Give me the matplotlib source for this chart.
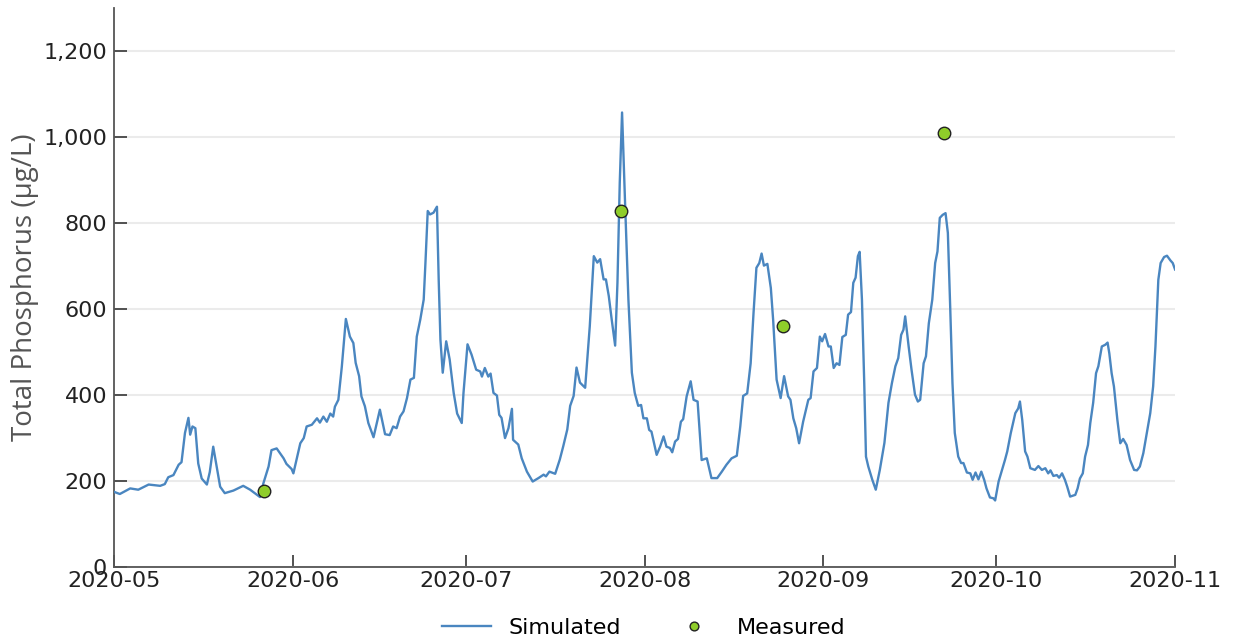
import matplotlib
matplotlib.use("Agg")
import matplotlib.pyplot as plt
import matplotlib.dates as mdates
from matplotlib.ticker import FuncFormatter
import pandas as pd

START = pd.Timestamp("2020-05-01")

# simulated series: days since 2020-05-01 and total phosphorus (ug/L)
sim_day = [
    0, 1, 2.8, 4.2, 6, 8, 8.8, 9.4, 10.3, 11.2, 11.7, 12.3, 12.9, 13.2, 13.6,
    14.1, 14.6, 15.2, 16.1, 16.6, 17.2, 17.7, 18.4, 19.2, 20.7, 22.4, 23.6,
    25.0, 25.3, 25.9, 26.8, 27.3, 28.2, 29.4, 29.9, 30.8, 31.1, 32.3, 32.9,
    33.4, 34.3, 35.2, 35.7, 36.3, 36.9, 37.5, 38.0, 38.3, 38.9, 39.5, 40.2,
    40.9, 41.5, 41.9, 42.5, 42.9, 43.5, 44.1, 45.0, 45.5, 46.1, 47.0, 47.8,
    48.4, 49.0, 49.6, 50.2, 50.8, 51.4, 52.0, 52.5, 53.1, 53.7, 54.0, 54.4,
    54.8, 55.4, 56.0, 56.3, 56.6, 57.0, 57.6, 58.2, 58.9, 59.5, 60.3, 60.6,
    61.3, 62.0, 62.8, 63.5, 63.8, 64.3, 64.9, 65.3, 65.8, 66.4, 66.8, 67.2,
    67.8, 68.4, 69.0, 69.2, 70.1, 70.7, 71.6, 72.6, 73.6, 74.5, 74.9, 75.5,
    76.5, 77.3, 77.9, 78.6, 79.1, 79.7, 80.2, 80.8, 81.7, 82.5, 83.2, 83.8,
    84.3, 84.9, 85.3, 85.8, 86.3, 86.9, 87.3, 87.7, 88.1, 88.6, 89.2, 89.8,
    90.3, 90.9, 91.4, 91.8, 92.4, 92.8, 93.2, 94.1, 94.7, 95.3, 95.8, 96.4,
    96.8, 97.3, 97.8, 98.3, 98.7, 99.3, 100.0, 100.5, 101.2, 101.9, 102.8,
    103.6, 104.6, 105.4, 106.2, 107.1, 108.0, 108.6, 109.1, 109.8, 110.4,
    110.9, 111.4, 111.9, 112.3, 112.7, 113.3, 113.9, 114.3, 114.9, 115.6,
    116.2, 116.9, 117.3, 117.8, 118.3, 118.8, 119.5, 120.4, 120.8, 121.3,
    121.9, 122.4, 122.8, 123.3, 123.9, 124.3, 124.8, 125.3, 125.8, 126.3,
    126.9, 127.3, 127.8, 128.2, 128.6, 129.0, 129.3, 129.7, 130.1, 130.4,
    130.8, 131.5, 132.1, 132.8, 133.6, 134.3, 134.9, 135.5, 136.0, 136.5,
    136.9, 137.2, 137.8, 138.3, 138.9, 139.4, 139.8, 140.4, 140.8, 141.3,
    141.9, 142.4, 142.8, 143.2, 143.7, 144.2, 144.6, 145.0, 145.4, 145.8,
    146.4, 146.9, 147.3, 147.9, 148.5, 148.9, 149.4, 149.9, 150.4, 150.9,
    151.3, 151.9, 152.5, 152.8, 153.4, 154.0, 154.5, 154.9, 155.5, 156.3,
    156.8, 157.1, 157.5, 158.0, 158.4, 158.9, 159.7, 160.3, 160.9, 161.5,
    162.0, 162.4, 162.9, 163.5, 163.9, 164.4, 164.9, 165.3, 165.8, 166.7,
    167.1, 167.5, 168.0, 168.4, 168.9, 169.3, 169.8, 170.3, 170.7, 171.3,
    171.9, 172.3, 172.6, 173.0, 173.4, 174.0, 174.5, 175.0, 175.6, 176.2,
    176.9, 177.4, 177.9, 178.5, 179.1, 179.7, 180.2, 180.6, 181.1, 181.5,
    182.1, 182.6, 183.2, 183.6, 184.0,
]
sim_tp = [
    175, 170, 183, 180, 192, 189, 193, 209, 214, 238, 244, 312, 347, 308, 327,
    323, 241, 206, 192, 221, 280, 241, 187, 172, 178, 189, 180,
    166, 163, 195, 234, 272, 276, 253, 240, 228, 218, 288, 300,
    327, 331, 346, 336, 350, 338, 357, 350, 373, 389, 466, 577,
    536, 521, 475, 444, 397, 374, 335, 302, 331, 366, 309, 307,
    327, 323, 350, 362, 393, 436, 440, 536, 575, 622, 707, 828,
    820, 824, 838, 668, 529, 452, 525, 483, 405, 357, 335, 405,
    518, 494, 459, 455, 443, 463, 443, 450, 405, 399, 354, 347,
    300, 323, 368, 296, 285, 253, 222, 199, 207, 215, 211, 222,
    217, 250, 281, 320, 375, 398, 464, 429, 417, 560, 723, 708,
    716, 669, 669, 630, 576, 515, 661, 894, 1057, 855, 622, 452,
    405, 375, 377, 346, 346, 319, 315, 261, 280, 304, 280, 277,
    267, 292, 298, 338, 344, 397, 432, 389, 385, 249, 253,
    207, 207, 222, 238, 253, 259, 327, 398, 404, 474,
    591, 696, 707, 729, 701, 705, 649, 575, 436, 393,
    444, 397, 389, 346, 323, 288, 338, 389, 393, 455,
    463, 536, 525, 542, 513, 513, 463, 474, 470, 535,
    540, 587, 593, 661, 673, 723, 733, 622, 428, 257,
    234, 203, 180, 226, 289, 382, 428, 467, 486, 540,
    552, 583, 513, 459, 401, 385, 389, 474, 490, 567,
    622, 707, 734, 812, 819, 823, 777, 607, 428, 312,
    257, 242, 242, 220, 218, 203, 220, 204, 222, 203,
    183, 162, 160, 155, 199, 226, 249, 269, 311, 358,
    369, 385, 342, 269, 257, 230, 226, 235, 226, 230,
    218, 225, 212, 214, 208, 218, 203, 187, 164, 168,
    183, 206, 218, 257, 284, 335, 382, 451, 467, 513,
    517, 522, 497, 451, 420, 342, 288, 298, 284, 249,
    226, 225, 234, 265, 311, 358, 420, 513, 668, 707,
    721, 724, 713, 707, 692,
]

# measured samples
meas_dates = ["2020-05-27", "2020-07-28", "2020-08-25", "2020-09-22"]
meas_tp = [178, 829, 560, 1010]

sim_dates = START + pd.to_timedelta(sim_day, unit="D")

fig = plt.figure(figsize=(12.33, 6.43), dpi=100)
ax = fig.add_axes([0.0925, 0.118, 0.8605, 0.8696])

ax.plot(sim_dates, sim_tp, color="#4a86c0", lw=1.7, label="Simulated", zorder=3)
ax.plot(pd.to_datetime(meas_dates), meas_tp, ls="none", marker="o",
        ms=9, mfc="#8fcd2a", mec="#222222", mew=1.0, label="Measured", zorder=4)

ax.set_xlim(pd.Timestamp("2020-05-01"), pd.Timestamp("2020-11-01"))
ax.set_ylim(0, 1300)
ax.set_yticks(range(0, 1201, 200))
ax.yaxis.set_major_formatter(FuncFormatter(lambda v, p: f"{int(v):,}"))
ax.xaxis.set_major_locator(mdates.MonthLocator())
ax.xaxis.set_major_formatter(mdates.DateFormatter("%Y-%m"))

# styling
for s in ["top", "right"]:
    ax.spines[s].set_visible(False)
for s in ["left", "bottom"]:
    ax.spines[s].set_color("#555555")
    ax.spines[s].set_linewidth(1.3)
ax.tick_params(direction="in", length=9, width=1.3, color="#444444",
               labelsize=16, labelcolor="#222222")
ax.tick_params(axis="x", pad=3)
ax.tick_params(axis="y", pad=5)
ax.grid(axis="y", color="#ebebeb", lw=1.5)
ax.set_axisbelow(True)

ax.set_ylabel("Total Phosphorus (µg/L)", fontsize=20, color="#555555",
              family=["Open Sans", "DejaVu Sans"], labelpad=3)

fig.legend(loc="center", bbox_to_anchor=(0.522, 0.023), ncol=2, frameon=False,
           fontsize=16, handlelength=2.2, handletextpad=0.8, columnspacing=2.2,
           markerscale=0.7)

fig.savefig("out.png", dpi=100)
